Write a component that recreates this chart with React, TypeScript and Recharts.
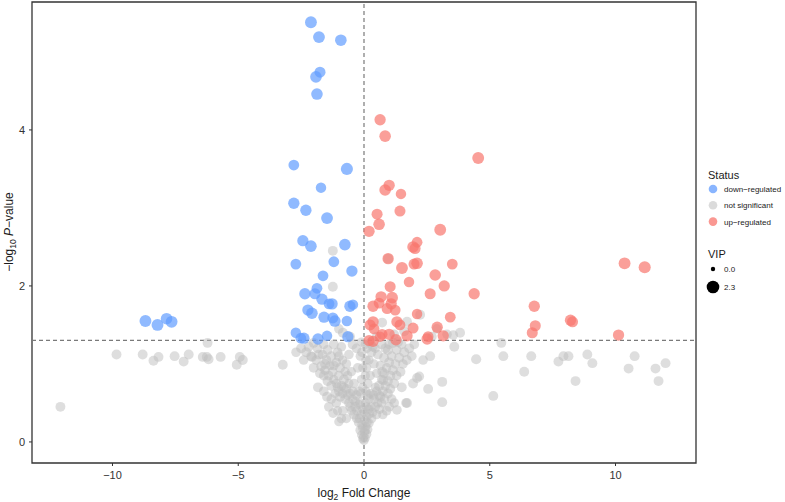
import React from 'react';
import { ScatterChart, Scatter, XAxis, YAxis, ReferenceLine, ReferenceArea } from 'recharts';

// [log2 fold change, -log10 p, VIP]
type Pt = [number, number, number];

const downRegulated: Pt[] = [
  [-2.11, 5.38, 2.0], [-1.79, 5.19, 2.0], [-0.92, 5.15, 1.9], [-1.75, 4.74, 1.7], [-1.91, 4.68, 1.9], [-1.87, 4.46, 1.9],
  [-2.79, 3.55, 1.6], [-0.68, 3.5, 2.1], [-1.71, 3.26, 1.5], [-2.79, 3.06, 1.8], [-2.31, 2.97, 1.8], [-1.47, 2.87, 2.0],
  [-2.43, 2.58, 1.8], [-2.11, 2.51, 1.9], [-0.76, 2.53, 1.9], [-1.2, 2.31, 1.6], [-2.71, 2.28, 1.6], [-0.48, 2.19, 1.8],
  [-1.63, 2.13, 1.6], [-2.35, 1.9, 1.8], [-1.87, 1.97, 1.6], [-1.95, 1.9, 1.7], [-1.67, 1.83, 1.8], [-1.39, 1.77, 1.6],
  [-1.27, 1.77, 1.8], [-0.56, 1.74, 1.8], [-0.44, 1.76, 1.5], [-2.23, 1.69, 1.8], [-2.07, 1.65, 1.9], [-1.59, 1.6, 1.8],
  [-1.24, 1.59, 1.7], [-1.16, 1.55, 1.9], [-0.68, 1.55, 1.5], [-2.71, 1.4, 1.5], [-2.51, 1.33, 1.6], [-2.39, 1.33, 1.8],
  [-1.83, 1.32, 1.8], [-1.47, 1.36, 1.5], [-0.64, 1.35, 1.8],
  [-8.69, 1.55, 2.0], [-8.21, 1.5, 2.0], [-7.85, 1.58, 1.9], [-7.65, 1.54, 2.0],
];

const upRegulated: Pt[] = [
  [0.64, 4.13, 1.8], [0.84, 3.92, 1.9], [4.54, 3.64, 2.0], [1.0, 3.29, 1.8], [0.84, 3.23, 1.9], [1.47, 3.18, 1.5],
  [0.52, 2.92, 1.7], [1.43, 2.96, 1.7], [0.6, 2.79, 1.9], [0.2, 2.7, 1.8], [3.03, 2.72, 2.0], [2.11, 2.56, 1.6],
  [1.95, 2.5, 1.9], [2.03, 2.48, 1.7], [0.96, 2.35, 1.8], [3.51, 2.28, 1.6], [1.51, 2.23, 2.0], [1.99, 2.28, 1.7],
  [2.11, 2.29, 1.9], [2.83, 2.14, 1.9], [3.19, 2.0, 1.8], [1.79, 2.05, 1.5], [1.04, 1.99, 1.7], [2.63, 1.9, 1.7],
  [4.38, 1.9, 1.8], [0.68, 1.86, 1.8], [1.12, 1.85, 1.9], [0.36, 1.74, 1.8], [0.6, 1.78, 1.6], [1.08, 1.77, 1.8],
  [0.92, 1.71, 1.7], [1.24, 1.69, 1.6], [2.11, 1.64, 1.5], [3.43, 1.6, 1.6], [0.36, 1.54, 1.8], [1.31, 1.54, 1.8],
  [1.43, 1.5, 1.6], [1.95, 1.46, 1.7], [2.91, 1.47, 1.8], [0.72, 1.38, 1.6], [1.0, 1.38, 1.8], [1.71, 1.36, 1.8],
  [2.55, 1.35, 1.6], [3.15, 1.36, 1.8], [0.24, 1.5, 1.7], [0.4, 1.45, 1.6], [0.2, 1.3, 1.7], [0.36, 1.29, 1.8],
  [1.27, 1.31, 1.8], [2.51, 1.32, 1.8], [0.64, 1.35, 1.5],
  [10.36, 2.29, 2.0], [11.16, 2.24, 2.1], [6.77, 1.74, 1.8], [6.81, 1.49, 1.7], [6.69, 1.4, 1.7],
  [8.21, 1.56, 1.8], [8.29, 1.54, 1.7], [10.12, 1.37, 1.8],
];

const notSignificant: Pt[] = [
  // tip of the V
  [0, 0.02, 1.1], [0.05, 0.05, 1.0], [-0.05, 0.04, 1.1], [0.1, 0.1, 1.2], [-0.1, 0.09, 1.0], [0.02, 0.12, 1.1],
  [-0.15, 0.15, 1.2], [0.15, 0.16, 1.1], [0.08, 0.2, 1.0], [-0.08, 0.22, 1.2], [0.2, 0.24, 1.1], [-0.22, 0.25, 1.1],
  [0.03, 0.28, 1.2], [-0.3, 0.3, 1.1], [0.3, 0.3, 1.2], [0.12, 0.33, 1.0], [-0.12, 0.35, 1.1],
  [-0.02, 0.06, 1.1], [0.04, 0.15, 1.2], [-0.06, 0.18, 1.1], [0.12, 0.25, 1.1], [-0.18, 0.3, 1.2], [0.22, 0.36, 1.1],
  [-0.28, 0.4, 1.2], [0.28, 0.45, 1.1], [-0.05, 0.42, 1.0], [0.06, 0.5, 1.1], [-0.35, 0.52, 1.2], [0.38, 0.6, 1.1],
  [-0.45, 0.65, 1.2], [0.45, 0.7, 1.1], [0.0, 0.38, 1.1], [-0.2, 0.48, 1.1], [0.18, 0.42, 1.2], [0.25, 0.62, 1.1],
  [-0.3, 0.6, 1.2],
  // left arm
  [-0.4, 0.35, 1.2], [-0.5, 0.4, 1.1], [-0.35, 0.45, 1.3], [-0.6, 0.5, 1.2], [-0.45, 0.55, 1.1], [-0.75, 0.55, 1.3],
  [-0.55, 0.62, 1.2], [-0.85, 0.62, 1.1], [-0.7, 0.68, 1.3], [-1.0, 0.65, 1.2], [-0.6, 0.75, 1.1], [-0.9, 0.72, 1.3],
  [-1.1, 0.75, 1.2], [-0.8, 0.8, 1.3], [-1.2, 0.8, 1.1], [-1.0, 0.85, 1.3], [-1.4, 0.85, 1.2], [-0.75, 0.9, 1.1],
  [-1.25, 0.9, 1.3], [-1.55, 0.92, 1.2], [-0.95, 0.95, 1.3], [-1.35, 0.98, 1.1], [-1.7, 0.97, 1.3], [-1.1, 1.02, 1.2],
  [-1.5, 1.05, 1.3], [-1.9, 1.05, 1.2], [-0.85, 1.05, 1.1], [-1.3, 1.1, 1.3], [-1.65, 1.12, 1.2], [-2.1, 1.1, 1.3],
  [-1.05, 1.15, 1.2], [-1.45, 1.18, 1.3], [-1.85, 1.2, 1.2], [-2.3, 1.15, 1.3], [-0.6, 1.12, 1.2], [-1.2, 1.25, 1.3],
  [-1.6, 1.25, 1.2], [-2.0, 1.27, 1.3], [-0.9, 1.22, 1.2], [-0.45, 1.25, 1.3],
  [-1.83, 0.7, 1.3], [-1.47, 0.58, 1.3], [-1.23, 0.37, 1.2], [-1.0, 0.26, 1.1], [-2.07, 1.09, 1.3], [-1.6, 0.65, 1.2],
  [-2.5, 1.2, 1.3], [-2.7, 1.15, 1.2], [-3.23, 0.99, 1.3], [-0.7, 0.3, 1.1], [-0.85, 0.4, 1.2], [-1.1, 0.5, 1.2],
  [-0.55, 0.45, 1.2], [-0.65, 0.6, 1.1], [-0.8, 0.7, 1.2], [-0.95, 0.58, 1.3], [-1.05, 0.7, 1.2], [-1.15, 0.62, 1.1],
  [-1.3, 0.72, 1.3], [-1.3, 0.55, 1.2], [-1.45, 0.78, 1.3], [-1.6, 0.85, 1.2], [-1.75, 0.88, 1.3], [-1.2, 0.98, 1.2],
  [-1.0, 1.1, 1.3], [-0.7, 1.0, 1.2], [-0.5, 0.9, 1.1], [-0.4, 0.75, 1.2], [-0.65, 0.85, 1.1], [-1.55, 1.0, 1.3],
  [-1.8, 1.12, 1.2], [-2.2, 1.22, 1.3], [-2.4, 1.05, 1.2], [-2.0, 0.95, 1.3], [-1.4, 0.45, 1.2], [-1.05, 0.4, 1.1],
  [-0.9, 0.3, 1.2],
  [-0.15, 0.5, 1.1], [-0.2, 0.65, 1.2], [-0.1, 0.8, 1.1], [-0.25, 0.95, 1.2], [-0.15, 1.1, 1.1], [-0.3, 1.2, 1.2],
  [-0.1, 1.28, 1.1], [-0.05, 0.7, 1.1], [-0.08, 1.15, 1.2], [-0.05, 0.95, 1.1], [-0.12, 0.62, 1.2],
  // right arm
  [0.1, 0.45, 1.1], [0.2, 0.55, 1.2], [0.08, 0.65, 1.1], [0.15, 0.75, 1.2], [0.25, 0.85, 1.1], [0.1, 0.95, 1.2],
  [0.2, 1.05, 1.1], [0.3, 1.15, 1.2], [0.12, 1.2, 1.1], [0.25, 1.27, 1.2], [0.4, 1.0, 1.1], [0.35, 1.22, 1.2],
  [0.05, 0.85, 1.1], [0.08, 1.05, 1.2], [0.05, 1.25, 1.1], [0.15, 0.6, 1.2],
  [0.35, 0.38, 1.1], [0.45, 0.45, 1.2], [0.55, 0.5, 1.1], [0.4, 0.55, 1.2], [0.65, 0.58, 1.3], [0.5, 0.65, 1.1],
  [0.75, 0.65, 1.2], [0.6, 0.72, 1.3], [0.85, 0.72, 1.2], [0.7, 0.8, 1.1], [0.95, 0.78, 1.3], [0.8, 0.88, 1.2],
  [1.05, 0.85, 1.3], [0.9, 0.95, 1.2], [1.15, 0.92, 1.3], [0.65, 0.98, 1.1], [1.0, 1.02, 1.3], [1.25, 1.0, 1.2],
  [0.8, 1.08, 1.3], [1.1, 1.1, 1.2], [1.4, 1.08, 1.3], [0.55, 1.12, 1.2], [0.95, 1.18, 1.3], [1.3, 1.18, 1.2],
  [1.6, 1.15, 1.3], [0.7, 1.25, 1.2], [1.15, 1.27, 1.3], [1.5, 1.25, 1.2], [1.8, 1.2, 1.3], [2.0, 1.25, 1.2],
  [0.5, 0.35, 1.1], [0.62, 0.42, 1.2], [0.7, 0.5, 1.1], [0.82, 0.55, 1.2], [0.95, 0.62, 1.3], [1.05, 0.68, 1.2],
  [1.2, 0.75, 1.3], [1.3, 0.85, 1.2], [1.45, 0.9, 1.3], [1.55, 1.0, 1.2], [1.7, 1.05, 1.3], [1.9, 1.1, 1.2],
  [0.85, 1.2, 1.3], [1.0, 1.25, 1.2], [0.5, 0.88, 1.1], [0.6, 0.6, 1.2], [0.72, 0.9, 1.2], [0.45, 1.2, 1.1],
  [1.35, 1.28, 1.3], [1.2, 0.5, 1.2], [1.0, 0.45, 1.2], [0.75, 0.35, 1.1],
  [0.76, 0.79, 1.2], [1.71, 0.5, 1.3], [1.31, 0.41, 1.2], [2.11, 0.82, 1.3], [2.2, 0.84, 1.2], [1.95, 0.75, 1.3],
  [1.67, 0.5, 1.2], [2.55, 0.68, 1.3], [3.11, 0.77, 1.3], [3.11, 0.51, 1.3], [2.63, 1.1, 1.3], [2.35, 1.05, 1.2],
  [3.59, 1.22, 1.3], [3.82, 1.4, 1.3], [3.55, 1.37, 1.2], [4.46, 1.06, 1.4], [0.9, 0.4, 1.2], [1.1, 0.55, 1.2],
  [1.5, 0.7, 1.3],
  // above the p threshold but not significant
  [-1.24, 2.45, 1.3], [-1.24, 1.99, 1.3], [-0.84, 1.4, 1.3], [-1.0, 1.45, 1.2], [-0.55, 1.35, 1.2], [2.23, 1.63, 1.3],
  [1.71, 1.54, 1.3], [0.72, 1.53, 1.3], [0.5, 1.35, 1.2], [1.2, 1.38, 1.2], [1.6, 1.42, 1.3], [2.7, 1.35, 1.2],
  [0.96, 2.35, 1.3], [2.9, 1.45, 1.2], [3.3, 1.38, 1.2],
  // far left
  [-12.07, 0.45, 1.3], [-9.84, 1.12, 1.3], [-8.8, 1.12, 1.3], [-8.37, 1.04, 1.3], [-8.17, 1.09, 1.3], [-7.53, 1.1, 1.3],
  [-7.17, 1.03, 1.3], [-6.97, 1.12, 1.3], [-6.41, 1.09, 1.3], [-6.25, 1.09, 1.3], [-6.22, 1.27, 1.3], [-6.18, 1.06, 1.3],
  [-5.7, 1.09, 1.3], [-5.06, 0.99, 1.3], [-4.94, 1.09, 1.3], [-4.82, 1.05, 1.3],
  // far right
  [5.46, 1.27, 1.3], [5.54, 1.1, 1.3], [5.14, 0.59, 1.3], [6.37, 0.9, 1.3], [6.65, 1.1, 1.3], [7.73, 1.03, 1.3],
  [7.93, 1.1, 1.3], [8.13, 1.1, 1.3], [8.41, 0.78, 1.3], [8.88, 1.12, 1.3], [9.08, 1.01, 1.3], [10.52, 0.94, 1.3],
  [10.76, 1.1, 1.3], [11.59, 0.94, 1.3], [11.71, 0.78, 1.3], [11.99, 1.01, 1.3],
];

const xTicks = [-10, -5, 0, 5, 10];
const yTicks = [0, 2, 4];
const statusLabels = ['down−regulated', 'not significant', 'up−regulated'];
const statusColors = ['#619CFF', '#BEBEBE', '#F8766D'];
const vipLabels = ['0.0', '2.3'];
const vipValues = [0, 2.3];

const pThreshold = 1.301;
const FONT = '"Liberation Sans", Arial, sans-serif';

const radius = (vip: number) => Math.sqrt(2.2 * 2.2 + (6.3 * 6.3 - 2.2 * 2.2) * (vip / 2.3));

const toRows = (pts: Pt[]) => pts.map(([x, y, vip]) => ({ x, y, vip }));

const dot = (color: string, opacity: number) => (props: any) => (
  <circle cx={props.cx} cy={props.cy} r={radius(props.payload.vip)} fill={color} fillOpacity={opacity} />
);

const fmt = (v: number) => (v < 0 ? `−${Math.abs(v)}` : `${v}`);

const Legend = () => (
  <svg width={785} height={502} style={{ position: 'absolute', left: 0, top: 0, pointerEvents: 'none' }}>
    <g fontFamily={FONT} fill="#1a1a1a">
      <text x={708} y={179} fontSize={11}>Status</text>
      {statusLabels.map((s, i) => (
        <g key={s}>
          <circle cx={713} cy={189 + i * 16.3} r={4.3} fill={statusColors[i]} fillOpacity={i === 1 ? 0.55 : 0.75} />
          <text x={724} y={192 + i * 16.3} fontSize={8}>{s}</text>
        </g>
      ))}
      <text x={708} y={258} fontSize={11}>VIP</text>
      {vipLabels.map((s, i) => (
        <g key={s}>
          <circle cx={713} cy={269 + i * 18} r={radius(vipValues[i])} fill="#000" />
          <text x={724} y={272 + i * 18} fontSize={8}>{s}</text>
        </g>
      ))}
    </g>
  </svg>
);

const App: React.FC = () => {
  return (
    <div style={{ position: 'absolute', left: 0, top: 0, width: 785, height: 502, background: '#fff' }}>
      <ScatterChart width={785} height={502} margin={{ top: 2, right: 89, bottom: 0, left: 0 }}>
        <XAxis
          type="number"
          dataKey="x"
          domain={[-13.2, 13.2]}
          ticks={xTicks}
          tickFormatter={fmt}
          allowDataOverflow
          height={39}
          axisLine={false}
          tickSize={3}
          tickMargin={5}
          tick={{ fontSize: 11, fill: '#333333', fontFamily: FONT }}
          stroke="#333333"
          label={{
            content: () => (
              <text x={364} y={497} textAnchor="middle" fontSize={12} fontFamily={FONT} fill="#1a1a1a">
                log<tspan fontSize={8.5} dy={3}>2</tspan>
                <tspan dy={-3}> Fold Change</tspan>
              </text>
            ),
          }}
        />
        <YAxis
          type="number"
          dataKey="y"
          domain={[-0.27, 5.64]}
          ticks={yTicks}
          allowDataOverflow
          width={32}
          axisLine={false}
          tickSize={3}
          tickMargin={4}
          tick={{ fontSize: 11, fill: '#333333', fontFamily: FONT }}
          stroke="#333333"
          label={{
            content: () => (
              <text
                x={0}
                y={0}
                transform="translate(13 232) rotate(-90)"
                textAnchor="middle"
                fontSize={12}
                fontFamily={FONT}
                fill="#1a1a1a"
              >
                −log<tspan fontSize={8.5} dy={3}>10</tspan>
                <tspan dy={-3}> </tspan>
                <tspan fontStyle="italic">P</tspan>
                <tspan>−value</tspan>
              </text>
            ),
          }}
        />
        <Scatter data={toRows(notSignificant)} shape={dot('#BEBEBE', 0.5)} isAnimationActive={false} />
        <Scatter data={toRows(downRegulated)} shape={dot('#619CFF', 0.7)} isAnimationActive={false} />
        <Scatter data={toRows(upRegulated)} shape={dot('#F8766D', 0.7)} isAnimationActive={false} />
        <ReferenceLine y={pThreshold} stroke="#7a7a7a" strokeDasharray="4 3" strokeWidth={1.2} />
        <ReferenceLine x={0} stroke="#7a7a7a" strokeDasharray="4 3" strokeWidth={1.2} />
        <ReferenceArea x1={-13.2} x2={13.2} y1={-0.27} y2={5.64} fill="none" stroke="#333333" strokeWidth={1.3} />
      </ScatterChart>
      <Legend />
    </div>
  );
};

export default App;
